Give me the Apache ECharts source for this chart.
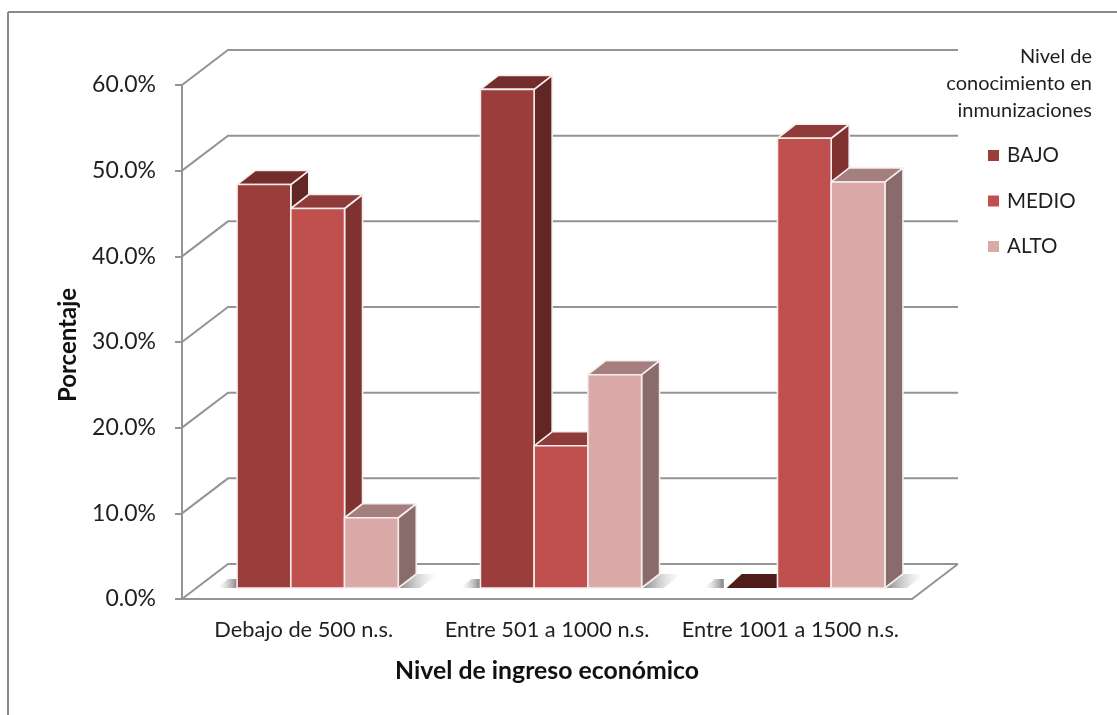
<!DOCTYPE html>
<html>
<head>
<meta charset="utf-8">
<title>Nivel de conocimiento en inmunizaciones</title>
<script src="https://cdn.jsdelivr.net/npm/echarts@6/dist/echarts.min.js"></script>
<style>
html, body { margin: 0; padding: 0; background: #fff; }
#chart { width: 1117px; height: 715px; }
</style>
</head>
<body>
<div id="chart"></div>
<script>
var categories = ['Debajo de 500 n.s.', 'Entre 501 a 1000 n.s.', 'Entre 1001 a 1500 n.s.'];
var seriesNames = ['BAJO', 'MEDIO', 'ALTO'];
var bajo = [47.1, 58.2, 0];
var medio = [44.3, 16.6, 52.5];
var alto = [8.2, 24.9, 47.4];
var yTicks = [0, 10, 20, 30, 40, 50, 60];

var frontColors = ['#9a3d3b', '#c0504d', '#d9aaa8'];
var topColors = ['#752d2c', '#8e3b39', '#a47f7d'];
var sideColors = ['#622624', '#7f3230', '#8a6b6b'];
var zeroColor = '#4f1c1a';
var lineColor = '#949494';
var fontName = 'Lato';

// 3d look: depth of the walls, shift of the bars on the floor, depth of one bar
var wallDx = 46, wallDy = -35;
var floorDx = 14, floorDy = -11;
var barDx = 18, barDy = -14;

function toRows(values) {
    return values.map(function (v, i) { return [i, v]; });
}

function poly(points, fill, stroke) {
    return {
        type: 'polygon',
        shape: { points: points },
        style: { fill: fill, stroke: stroke || 'none', lineWidth: stroke ? 1.6 : 0, lineJoin: 'round' }
    };
}

function line(points) {
    return {
        type: 'polyline',
        shape: { points: points },
        style: { fill: 'none', stroke: lineColor, lineWidth: 2 }
    };
}

// gridlines of the back wall and the side wall, one per tick
function renderWall(params, api) {
    var p = api.coord([0, api.value(0)]);
    var band = api.size([1, 0])[0];
    var x0 = p[0] - band / 2;
    var xEnd = x0 + band * categories.length;
    var isFloor = api.value(0) === 0;
    var children = [line([[x0, p[1]], [x0 + wallDx, p[1] + wallDy], [xEnd + wallDx, p[1] + wallDy]])];
    if (isFloor) {
        children.push(line([[xEnd, p[1]], [xEnd + wallDx, p[1] + wallDy]]));
    }
    return { type: 'group', children: children };
}

// soft shadow left and right of each cluster of bars
function renderShadow(params, api) {
    var p = api.coord([api.value(0), 0]);
    var band = api.size([1, 0])[0];
    var w = band * 0.2208;
    var xl = p[0] - 1.5 * w + floorDx;
    var xr = xl + 3 * w;
    var y = p[1] + floorDy;
    var grey = 'rgba(115,115,115,0.9)';
    var clear = 'rgba(210,210,210,0)';
    var leftFill = new echarts.graphic.LinearGradient(0, 0, 1, 0, [{ offset: 0, color: clear }, { offset: 1, color: grey }]);
    var rightFill = new echarts.graphic.LinearGradient(0, 0, 1, 0, [{ offset: 0, color: grey }, { offset: 1, color: clear }]);
    return {
        type: 'group',
        children: [
            poly([[xl - 20, y], [xl, y], [xl, y - 9], [xl - 9, y - 9]], leftFill),
            poly([[xr, y], [xr + barDx, y + barDy], [xr + 40, y + barDy], [xr + 22, y]], rightFill)
        ]
    };
}

function renderBar(index) {
    return function (params, api) {
        var cat = api.value(0);
        var val = api.value(1);
        var base = api.coord([cat, 0]);
        var top = api.coord([cat, val])[1] + floorDy;
        var band = api.size([1, 0])[0];
        var w = band * 0.2208;
        var x = base[0] - 1.5 * w + index * w + floorDx;
        var y = base[1] + floorDy;
        var edge = '#f4eeee';
        if (val === 0) {
            return poly([[x + 3, y], [x + w, y], [x + w + barDx, y + barDy], [x + barDx, y + barDy]], zeroColor);
        }
        return {
            type: 'group',
            children: [
                poly([[x + w, top], [x + w + barDx, top + barDy], [x + w + barDx, y + barDy], [x + w, y]], sideColors[index], edge),
                poly([[x, top], [x + barDx, top + barDy], [x + w + barDx, top + barDy], [x + w, top]], topColors[index], edge),
                poly([[x, top], [x + w, top], [x + w, y], [x, y]], frontColors[index], edge)
            ]
        };
    };
}

function barSeries(index, values) {
    return {
        name: seriesNames[index],
        type: 'custom',
        coordinateSystem: 'cartesian2d',
        renderItem: renderBar(index),
        itemStyle: { color: frontColors[index] },
        encode: { x: 0, y: 1 },
        data: toRows(values),
        z: 5 + index
    };
}

var chart = echarts.init(document.getElementById('chart'));
chart.setOption({
    backgroundColor: '#ffffff',
    animation: false,
    textStyle: { fontFamily: fontName },
    title: {
        text: 'Nivel de\nconocimiento en\ninmunizaciones',
        left: 1087,
        top: 38,
        textAlign: 'right',
        textStyle: { fontFamily: fontName, fontSize: 20, fontWeight: 'normal', color: '#1f1f1f', lineHeight: 27 }
    },
    legend: {
        data: seriesNames,
        orient: 'vertical',
        left: 988,
        top: 145,
        padding: 0,
        itemWidth: 11,
        itemHeight: 11,
        itemGap: 24.5,
        itemStyle: { borderWidth: 0 },
        icon: 'rect',
        textStyle: { fontFamily: fontName, fontSize: 20.5, color: '#1f1f1f', padding: [0, 0, 0, 3] }
    },
    grid: { left: 182, right: 205, top: 85, bottom: 116 },
    xAxis: {
        type: 'category',
        data: categories,
        name: 'Nivel de ingreso económico',
        nameLocation: 'middle',
        nameGap: 60,
        nameTextStyle: { fontFamily: fontName, fontSize: 24.8, fontWeight: 'bold', color: '#111' },
        axisLine: { lineStyle: { color: lineColor, width: 2 } },
        axisTick: { alignWithLabel: false, length: 7, lineStyle: { color: lineColor, width: 2 } },
        axisLabel: { interval: 0, margin: 20, fontFamily: fontName, fontSize: 21.8, color: '#1f1f1f' },
        splitLine: { show: false }
    },
    yAxis: {
        type: 'value',
        min: 0,
        max: 60,
        interval: 10,
        name: 'Porcentaje',
        nameLocation: 'middle',
        nameGap: 102,
        nameRotate: 90,
        nameTextStyle: { fontFamily: fontName, fontSize: 24, fontWeight: 'bold', color: '#111', padding: [0, 6, 0, 0] },
        axisLine: { show: true, lineStyle: { color: lineColor, width: 2 } },
        axisTick: { show: true, length: 7, lineStyle: { color: lineColor, width: 2 } },
        axisLabel: {
            margin: 26,
            padding: [2, 0, 0, 0],
            fontFamily: fontName,
            fontSize: 23,
            color: '#1f1f1f',
            formatter: function (v) { return v.toFixed(1) + '%'; }
        },
        splitLine: { show: false }
    },
    graphic: [
        { type: 'line', shape: { x1: 8, y1: 12, x2: 1117, y2: 12 }, style: { stroke: '#8a8a8a', lineWidth: 2 } },
        { type: 'line', shape: { x1: 8, y1: 12, x2: 8, y2: 715 }, style: { stroke: '#8a8a8a', lineWidth: 2 } }
    ],
    series: [
        {
            type: 'custom',
            coordinateSystem: 'cartesian2d',
            renderItem: renderWall,
            encode: { y: 0 },
            data: yTicks.map(function (v) { return [v]; }),
            silent: true,
            z: 1
        },
        {
            type: 'custom',
            coordinateSystem: 'cartesian2d',
            renderItem: renderShadow,
            encode: { x: 0 },
            data: categories.map(function (c, i) { return [i]; }),
            silent: true,
            z: 2
        },
        barSeries(0, bajo),
        barSeries(1, medio),
        barSeries(2, alto)
    ]
});
</script>
</body>
</html>
